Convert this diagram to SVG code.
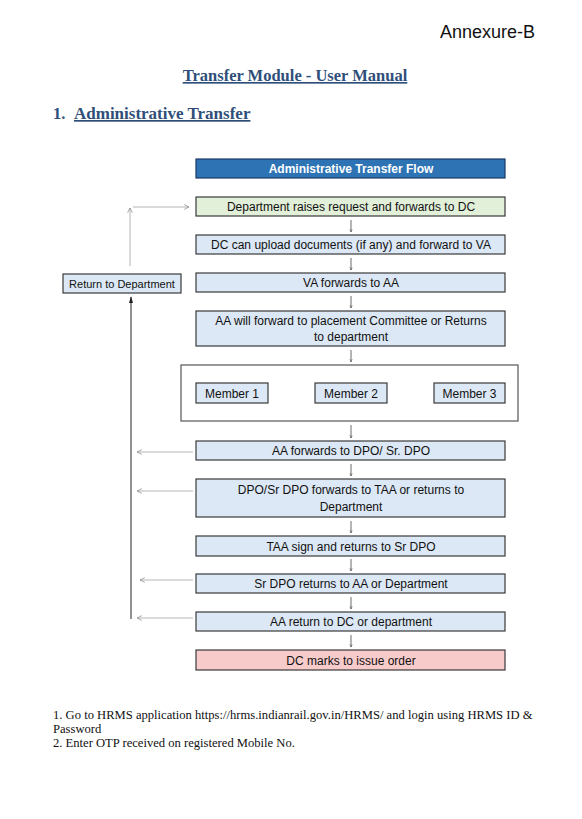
<svg xmlns="http://www.w3.org/2000/svg" width="582" height="819" viewBox="0 0 582 819">
<defs>
<style>
.box{fill:#dce8f5;stroke:#3a3a3a;stroke-width:1.2}
.t{font-family:"Liberation Sans",Arial,sans-serif;font-size:12px;fill:#111;text-anchor:middle}
.ts{font-family:"Liberation Sans",Arial,sans-serif;font-size:11px;fill:#111;text-anchor:middle}
.g{stroke:#b5b5b5;stroke-width:1;fill:none}
.k{stroke:#222;stroke-width:1;fill:none}
.dn{stroke:#444;stroke-width:0.8;fill:none}
.ser{font-family:"Liberation Serif","Times New Roman",serif}
</style>
<marker id="open" viewBox="0 0 10 10" refX="9" refY="5" markerWidth="6" markerHeight="6" orient="auto"><path d="M1,1 L9,5 L1,9" fill="none" stroke="#888" stroke-width="1.2"/></marker>
<marker id="dn" viewBox="0 0 10 10" refX="9" refY="5" markerWidth="5" markerHeight="5" orient="auto"><path d="M2,2 L9,5 L2,8" fill="none" stroke="#444" stroke-width="1.2"/></marker>
<marker id="blk" viewBox="0 0 10 10" refX="9" refY="5" markerWidth="7" markerHeight="7" orient="auto"><path d="M0,2 L10,5 L0,8 Z" fill="#222"/></marker>
</defs>
<rect width="582" height="819" fill="#fff"/>
<text x="535" y="38" font-family="Liberation Sans,Arial,sans-serif" font-size="18" text-anchor="end" fill="#111">Annexure-B</text>
<text x="295" y="81" class="ser" font-size="16.5" font-weight="bold" fill="#2f4f7a" text-anchor="middle" text-decoration="underline">Transfer Module - User Manual</text>
<text x="53" y="119" class="ser" font-size="16.5" font-weight="bold" fill="#2f4f7a">1.<tspan x="74" font-size="17" text-decoration="underline">Administrative Transfer</tspan></text>

<g id="connectors">
<line class="dn" x1="351" y1="220" x2="351" y2="232" marker-end="url(#dn)"/>
<line class="dn" x1="351" y1="258" x2="351" y2="270" marker-end="url(#dn)"/>
<line class="dn" x1="351" y1="296" x2="351" y2="308" marker-end="url(#dn)"/>
<line class="dn" x1="351" y1="350" x2="351" y2="362" marker-end="url(#dn)"/>
<line class="dn" x1="351" y1="425" x2="351" y2="438" marker-end="url(#dn)"/>
<line class="dn" x1="351" y1="464" x2="351" y2="476" marker-end="url(#dn)"/>
<line class="dn" x1="351" y1="521" x2="351" y2="533" marker-end="url(#dn)"/>
<line class="dn" x1="351" y1="559" x2="351" y2="571" marker-end="url(#dn)"/>
<line class="dn" x1="351" y1="597" x2="351" y2="609" marker-end="url(#dn)"/>
<line class="dn" x1="351" y1="635" x2="351" y2="647" marker-end="url(#dn)"/>
<path class="g" d="M130,266 L130,208" marker-end="url(#open)"/>
<line class="g" x1="133" y1="207" x2="189" y2="207" marker-end="url(#open)"/>
<line class="k" x1="131" y1="619" x2="131" y2="297" marker-end="url(#blk)"/>
<line class="g" x1="193" y1="452" x2="137" y2="452" marker-end="url(#open)"/>
<line class="g" x1="193" y1="491" x2="137" y2="491" marker-end="url(#open)"/>
<line class="g" x1="193" y1="580" x2="140" y2="580" marker-end="url(#open)"/>
<line class="g" x1="193" y1="618" x2="137" y2="618" marker-end="url(#open)"/>
</g>

<g id="header"><rect x="196" y="159" width="309" height="19" fill="#2e74b5" stroke="#1f3864" stroke-width="1.2"/><text x="351" y="173" class="t" font-weight="bold" style="fill:#fff">Administrative Transfer Flow</text></g>
<g id="n1"><rect x="196" y="197" width="309" height="19" class="box" style="fill:#e2efd9"/><text x="351" y="211" class="t">Department raises request and forwards to DC</text></g>
<g id="n2"><rect x="196" y="235" width="309" height="19" class="box"/><text x="351" y="249" class="t">DC can upload documents (if any) and forward to VA</text></g>
<g id="n3"><rect x="196" y="273" width="309" height="19" class="box"/><text x="351" y="287" class="t">VA forwards to AA</text></g>
<g id="ret"><rect x="63" y="274" width="118" height="19" class="box"/><text x="122" y="287.5" class="ts">Return to Department</text></g>
<g id="n4"><rect x="196" y="311" width="309" height="35" class="box"/><text x="351" y="325" class="t">AA will forward to placement Committee or Returns</text><text x="351" y="341" class="t">to department</text></g>
<g id="committee"><rect x="181" y="365" width="337" height="56" fill="#fff" stroke="#555" stroke-width="1.2"/></g>
<g id="m1"><rect x="196" y="383" width="72" height="20" class="box"/><text x="232" y="398" class="t">Member 1</text></g>
<g id="m2"><rect x="315" y="383" width="72" height="20" class="box"/><text x="351" y="398" class="t">Member 2</text></g>
<g id="m3"><rect x="434" y="383" width="71" height="20" class="box"/><text x="469.5" y="398" class="t">Member 3</text></g>
<g id="n5"><rect x="196" y="441" width="309" height="19" class="box"/><text x="351" y="455" class="t">AA forwards to DPO/ Sr. DPO</text></g>
<g id="n6"><rect x="196" y="479" width="309" height="38" class="box"/><text x="351" y="494" class="t">DPO/Sr DPO forwards to TAA or returns to</text><text x="351" y="511" class="t">Department</text></g>
<g id="n7"><rect x="196" y="536" width="309" height="20" class="box"/><text x="351" y="550.5" class="t">TAA sign and returns to Sr DPO</text></g>
<g id="n8"><rect x="196" y="574" width="309" height="19" class="box"/><text x="351" y="588" class="t">Sr DPO returns to AA or Department</text></g>
<g id="n9"><rect x="196" y="612" width="309" height="19" class="box"/><text x="351" y="626" class="t">AA return to DC or department</text></g>
<g id="n10"><rect x="196" y="650" width="309" height="20" class="box" style="fill:#f8cbcb"/><text x="351" y="664.5" class="t">DC marks to issue order</text></g>

<g class="ser" font-size="12.6" fill="#111">
<text x="53" y="719">1.  Go to HRMS application https://hrms.indianrail.gov.in/HRMS/ and login using HRMS ID &amp;</text>
<text x="53" y="733">Password</text>
<text x="53" y="747">2.  Enter OTP received on registered Mobile No.</text>
</g>
</svg>
